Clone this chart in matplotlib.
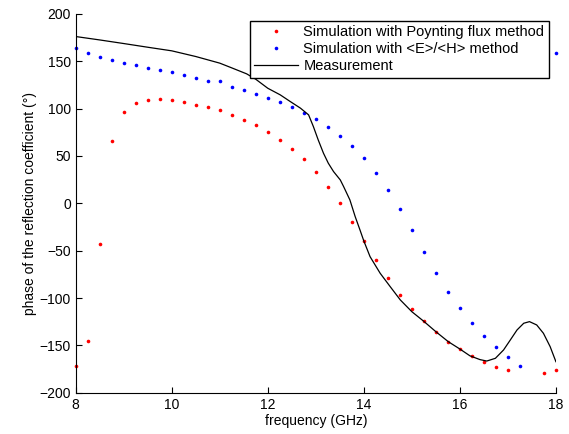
import numpy as np
import matplotlib.pyplot as plt

plt.rcParams['font.family'] = ['Liberation Sans', 'DejaVu Sans']

# simulation frequencies (GHz), one point every 0.25 GHz
sim_freq = np.arange(41) * 0.25 + 8.0

# phase (deg), Poynting flux method
poynting_phase = [-171.7, -145.0, -43.2, 66.2, 96.2, 105.7, 109.5, 109.9, 109.2, 107.4,
                  103.9, 102.1, 98.3, 93.7, 88.4, 82.5, 75.4, 67.3, 57.5, 46.4,
                  32.8, 17.3, 0.1, -19.6, -39.7, -60.1, -79.1, -96.4, -111.5, -124.5,
                  -136.1, -146.1, -153.8, -161.5, -167.5, -172.5, -175.6, 179.0, 178.0, -179.5,
                  -176.3]

# phase (deg), <E>/<H> method
eh_phase = [164.4, 159.2, 155.0, 151.5, 148.6, 145.9, 143.3, 140.9, 138.5, 135.3,
            132.8, 129.6, 129.6, 123.3, 119.8, 115.6, 111.6, 106.8, 101.5, 95.6,
            89.0, 80.7, 71.2, 60.6, 47.6, 32.1, 14.3, -6.3, -28.4, -51.0,
            -73.2, -93.6, -110.8, -126.6, -139.7, -151.3, -161.9, -171.4, 175.0, 167.0,
            159.2]

# measured phase
meas_freq = [8.0, 8.5, 9.0, 9.5, 10.0, 10.5, 11.0, 11.25, 11.56, 11.75, 12.0, 12.26,
             12.47, 12.68, 12.85, 12.95, 13.05, 13.16, 13.26, 13.37, 13.51, 13.58, 13.71,
             13.82, 13.92, 14.0, 14.13, 14.34, 14.55, 14.76, 15.0, 15.24, 15.5, 15.76,
             16.0, 16.21, 16.42, 16.56, 16.74, 16.91, 17.05, 17.19, 17.33, 17.45, 17.6,
             17.74, 17.88, 18.0]
meas_phase = [176.1, 172.5, 168.7, 164.8, 161.0, 155.0, 148.0, 143.0, 136.7, 131.0, 121.5, 114.5,
              107.4, 100.5, 93.4, 81.0, 67.0, 52.9, 42.4, 33.5, 24.7, 17.6, 3.6,
              -14.0, -28.1, -39.7, -56.3, -73.8, -88.0, -102.0, -114.4, -124.2, -135.5, -146.1,
              -153.8, -161.0, -165.0, -166.5, -163.6, -154.8, -144.3, -133.7, -126.6, -124.9, -128.4,
              -137.2, -151.3, -167.2]

fig = plt.figure(figsize=(5.69, 4.34), dpi=100)
ax = fig.add_axes([0.133, 0.095, 0.844, 0.873])

ax.plot(sim_freq, poynting_phase, 'o', color='red', markersize=2.6, markeredgewidth=0,
        clip_on=False, label='Simulation with Poynting flux method')
ax.plot(sim_freq, eh_phase, 'o', color='blue', markersize=2.6, markeredgewidth=0,
        clip_on=False, label='Simulation with <E>/<H> method')
ax.plot(meas_freq, meas_phase, '-', color='black', linewidth=0.9, label='Measurement')

ax.set_xlim(8, 18)
ax.set_ylim(-200, 200)
ax.set_xticks(np.arange(8, 19, 2))
ax.set_yticks(np.arange(-200, 201, 50))
ax.tick_params(direction='in', length=4, labelsize=10, top=False, right=False)
ax.spines['top'].set_visible(False)
ax.spines['right'].set_visible(False)
ax.set_xlabel('frequency (GHz)', fontsize=10, labelpad=2)
ax.set_ylabel('phase of the reflection coefficient (°)', fontsize=10, labelpad=2)

leg = ax.legend(loc='upper right', bbox_to_anchor=(0.985, 0.982), fontsize=10.5,
                fancybox=False, edgecolor='black', framealpha=1,
                handlelength=3.0, handletextpad=0.35, borderpad=0.3,
                labelspacing=0.22, borderaxespad=0)
leg.get_frame().set_linewidth(1.0)
leg.set_zorder(5)

fig.savefig('out.png', dpi=100)
